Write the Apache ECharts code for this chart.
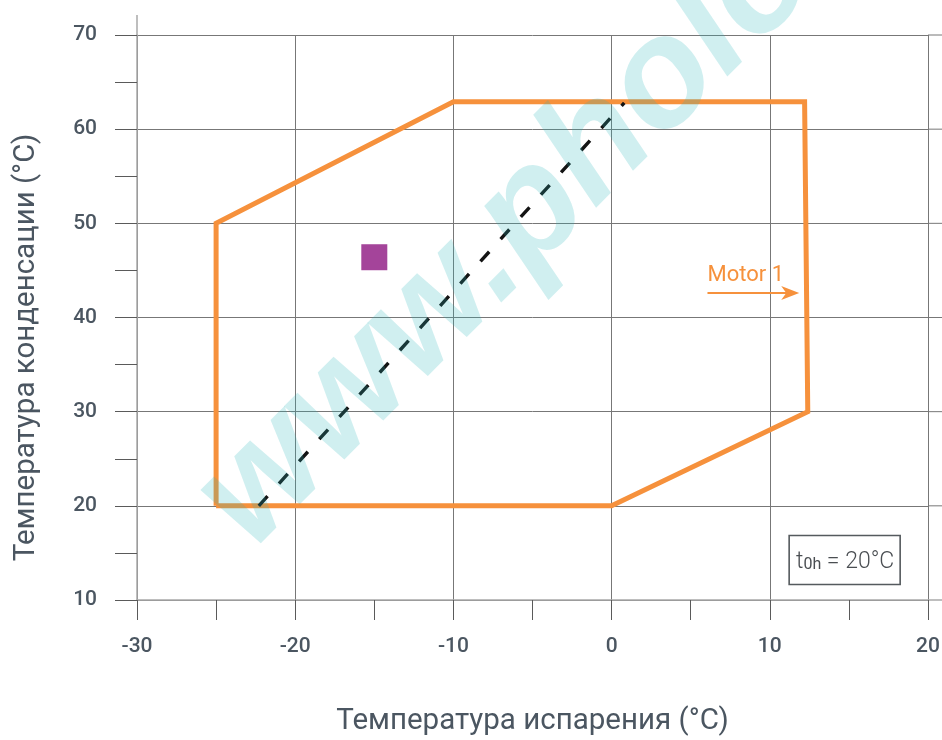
<!DOCTYPE html>
<html>
<head>
<meta charset="utf-8">
<script src="https://cdn.jsdelivr.net/npm/echarts@6/dist/echarts.min.js"></script>
<style>
  html, body { margin: 0; padding: 0; background: #ffffff; }
  #chart { width: 942px; height: 740px; }
</style>
</head>
<body>
<div id="chart"></div>
<script>
// Operating envelope of the compressor: evaporating vs condensing temperature (°C)
const envelopeX = [-25, -25, -10, 12.2, 12.4, 0, -25];
const envelopeY = [20, 50, 62.9, 62.9, 30, 20, 20];

// Dashed reference line across the envelope
const dashedX = [-22.3, 0.8];
const dashedY = [20, 62.8];

// Marked operating point
const pointX = [-15];
const pointY = [46.4];

// Axis ranges and tick step
const xRange = [-30, 20];
const yRange = [10, 70];
const tickStep = 10;

// Annotations
const motorLabel = 'Motor 1';
const motorArrowFrom = [6.06, 42.6];
const motorArrowTo = [11.86, 42.6];
const conditionAnchor = [14.7, 14.25];
const watermarkText = 'www.pholod.com';

const TEXT = '#4b5661';
const ORANGE = '#f6913c';
const GRID = '#777777';
const AXIS = '#a9a9a9';
const TICK = '#5a5a5a';

const chart = echarts.init(document.getElementById('chart'), null, { renderer: 'canvas' });

const option = {
  backgroundColor: '#ffffff',
  animation: false,
  grid: {
    left: 137, right: 14, top: 35, bottom: 140,
    containLabel: false, outerBoundsMode: 'none'
  },
  xAxis: {
    type: 'value',
    min: xRange[0], max: xRange[1], interval: tickStep,
    name: 'Температура испарения (°C)',
    nameLocation: 'middle',
    nameGap: 107,
    nameTextStyle: { color: TEXT, fontSize: 29.5, fontFamily: 'Roboto' },
    axisLine: { show: true, onZero: false, lineStyle: { color: AXIS, width: 1.5 } },
    axisTick: { show: true, length: 20, lineStyle: { color: TICK, width: 1 } },
    minorTick: { show: true, splitNumber: 2, length: 20, lineStyle: { color: TICK, width: 1 } },
    splitLine: { show: true, lineStyle: { color: GRID, width: 1 } },
    axisLabel: { color: TEXT, fontSize: 21, fontWeight: 500, fontFamily: 'Roboto', margin: 36 }
  },
  yAxis: {
    type: 'value',
    min: yRange[0], max: yRange[1], interval: tickStep,
    name: 'Температура конденсации (°C)',
    nameLocation: 'middle',
    nameGap: 95,
    nameTextStyle: { color: TEXT, fontSize: 29.5, fontFamily: 'Roboto', padding: [0, 60, 0, 0] },
    axisLine: { show: true, onZero: false, lineStyle: { color: AXIS, width: 1.5 } },
    axisTick: { show: true, length: 22, lineStyle: { color: TICK, width: 1 } },
    minorTick: { show: true, splitNumber: 2, length: 22, lineStyle: { color: TICK, width: 1 } },
    splitLine: { show: true, lineStyle: { color: GRID, width: 1 } },
    axisLabel: { color: TEXT, fontSize: 21, fontWeight: 500, fontFamily: 'Roboto', margin: 40 }
  },
  series: [
    {
      type: 'line',
      data: envelopeX.map((x, i) => [x, envelopeY[i]]),
      symbol: 'none',
      lineStyle: { color: ORANGE, width: 5, join: 'miter' },
      z: 3
    },
    {
      type: 'line',
      data: dashedX.map((x, i) => [x, dashedY[i]]),
      symbol: 'none',
      lineStyle: { color: '#141414', width: 3.4, type: [13, 17], cap: 'butt' },
      z: 4
    },
    {
      type: 'scatter',
      data: pointX.map((x, i) => [x, pointY[i]]),
      symbol: 'rect',
      symbolSize: 26,
      itemStyle: { color: '#a4449a', opacity: 1 },
      z: 110
    }
  ]
};

chart.setOption(option);

// Decorations placed from the axes' own scales
const px = (p) => chart.convertToPixel({ gridIndex: 0 }, p);
const graphics = [];

// axis line runs a little above the top tick
const yTop = px([xRange[0], yRange[1]]);
graphics.push({
  type: 'line', silent: true,
  shape: { x1: yTop[0], y1: yTop[1], x2: yTop[0], y2: yTop[1] - 20 },
  style: { stroke: AXIS, lineWidth: 1.5 }
});

// horizontal grid lines run on to the right edge
for (let v = yRange[0]; v <= yRange[1]; v += tickStep) {
  const p = px([xRange[1], v]);
  graphics.push({
    type: 'line', silent: true,
    shape: { x1: p[0], y1: p[1], x2: 942, y2: p[1] },
    style: { stroke: v === yRange[0] ? AXIS : GRID, lineWidth: v === yRange[0] ? 1.5 : 1 }
  });
}

// Motor 1 label and arrow
const a0 = px(motorArrowFrom);
const a1 = px(motorArrowTo);
graphics.push({
  type: 'text', silent: true,
  x: a0[0], y: a0[1] - 18,
  style: { text: motorLabel, fill: ORANGE, font: '22px Roboto', align: 'left', verticalAlign: 'middle' }
});
graphics.push({
  type: 'line', silent: true,
  shape: { x1: a0[0], y1: a0[1], x2: a1[0] - 8, y2: a1[1] },
  style: { stroke: ORANGE, lineWidth: 2 }
});
graphics.push({
  type: 'polygon', silent: true,
  shape: { points: [[a1[0], a1[1]], [a1[0] - 18, a1[1] - 7], [a1[0] - 13, a1[1]], [a1[0] - 18, a1[1] + 7]] },
  style: { fill: ORANGE }
});

// condition box
const c = px(conditionAnchor);
graphics.push({
  type: 'rect', silent: true,
  shape: { x: c[0] - 55, y: c[1] - 24.5, width: 111, height: 49 },
  style: { fill: '#ffffff', stroke: '#555a5e', lineWidth: 1.6 }
});
graphics.push({
  type: 'text', silent: true,
  x: c[0] + 1, y: c[1] + 1,
  style: {
    text: '{t|t}{s|0h}{e| = 20°C}',
    align: 'center', verticalAlign: 'middle',
    rich: {
      t: { fontSize: 23, fontFamily: 'Roboto', fontWeight: 300, fill: '#4a4e52', verticalAlign: 'bottom', lineHeight: 26 },
      s: { fontSize: 16, fontFamily: 'Roboto', fill: '#4a4e52', verticalAlign: 'bottom', lineHeight: 26, padding: [0, 0, 1, 0] },
      e: { fontSize: 23, fontFamily: 'Roboto', fontWeight: 300, fill: '#4a4e52', verticalAlign: 'bottom', lineHeight: 26 }
    }
  }
});

// watermark
graphics.push({
  type: 'text', silent: true, z: 100,
  x: 276, y: 576, rotation: Math.PI / 4,
  style: {
    text: watermarkText,
    font: 'italic bold 152px "Liberation Sans"',
    fill: 'rgba(40,180,185,0.22)',
    align: 'left', verticalAlign: 'bottom'
  }
});

chart.setOption({ graphic: graphics });
</script>
</body>
</html>
